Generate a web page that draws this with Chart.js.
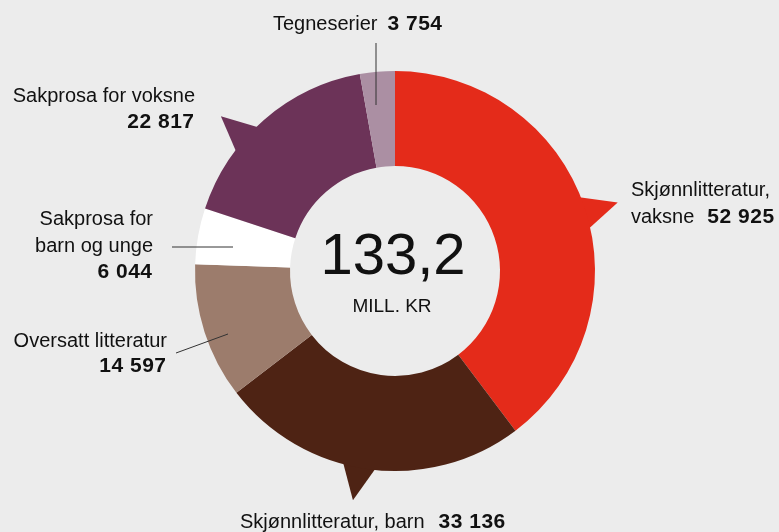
<!DOCTYPE html>
<html>
<head>
<meta charset="utf-8">
<script src="https://cdn.jsdelivr.net/npm/chart.js@4.4.1/dist/chart.umd.min.js"></script>
<style>
  html, body { margin: 0; padding: 0; background: #ececec; }
  #wrap { position: relative; width: 779px; height: 532px; }
</style>
</head>
<body>
<div id="wrap"><canvas id="kake"></canvas></div>
<script>
// Omsetning per kategori (1000 kr)
const kategorier = [
    ['Skjønnlitteratur,', 'vaksne'],
    ['Skjønnlitteratur, barn'],
    ['Oversatt litteratur'],
    ['Sakprosa for', 'barn og unge'],
    ['Sakprosa for voksne'],
    ['Tegneserier']
];
const verdier = [52925, 33136, 14597, 6044, 22817, 3754];
const farger = ['#e42b1a', '#4e2314', '#9c7c6c', '#ffffff', '#6c3358', '#ab8fa3'];
const totalTekst = '133,2';
const enhetTekst = 'MILL. KR';

const FONT = '"Liberation Sans", Arial, sans-serif';
const TEKST = '#111111';

function tusen(v) {
    return String(v).replace(/\B(?=(\d{3})+(?!\d))/g, ' ');
}

// plassering av etiketter (x, grunnlinje, justering, linjeavstand, mellomrom før tall, tall på egen linje?)
const etikettOppsett = [
    { x: 631, y: 196, align: 'left', lh: 27, gap: 13, egenLinje: false },
    { x: 240, y: 528, align: 'left', lh: 26, gap: 14, egenLinje: false },
    { x: 167, y: 347, align: 'right', lh: 26, gap: 0, egenLinje: true },
    { x: 153, y: 225, align: 'right', lh: 27, gap: 0, egenLinje: true },
    { x: 195, y: 102, align: 'right', lh: 27, gap: 0, egenLinje: true },
    { x: 273, y: 30, align: 'left', lh: 26, gap: 10, egenLinje: false }
];

// streker fra etikett til sektor
const streker = [
    [376, 43, 376, 105],
    [172, 247, 233, 247],
    [176, 353, 228, 334]
];

// "snakkeboble"-spisser: sektor og andel av vinkelen
const spisser = [
    { i: 0, andel: 0.51 },
    { i: 1, andel: 0.53 },
    { i: 4, andel: 0.38 }
];

const spissPlugin = {
    id: 'spisser',
    beforeDatasetsDraw(chart) {
        const ctx = chart.ctx;
        const meta = chart.getDatasetMeta(0);
        spisser.forEach(s => {
            const arc = meta.data[s.i];
            const p = arc.getProps(['x', 'y', 'startAngle', 'endAngle', 'outerRadius'], true);
            const a = p.startAngle + (p.endAngle - p.startAngle) * s.andel;
            const halv = 5 * Math.PI / 180;
            const r = p.outerRadius - 3;
            const tipp = p.outerRadius + 33;
            ctx.save();
            ctx.fillStyle = farger[s.i];
            ctx.beginPath();
            ctx.moveTo(p.x + Math.cos(a - halv) * r, p.y + Math.sin(a - halv) * r);
            ctx.lineTo(p.x + Math.cos(a) * tipp, p.y + Math.sin(a) * tipp);
            ctx.lineTo(p.x + Math.cos(a + halv) * r, p.y + Math.sin(a + halv) * r);
            ctx.closePath();
            ctx.fill();
            ctx.restore();
        });
    }
};

const vanlig = '20px ' + FONT;
const fet = 'bold 21px ' + FONT;
const sperring = 0.5;

function fetTekst(ctx, tekst, x, y, align) {
    ctx.save();
    ctx.font = fet;
    ctx.letterSpacing = sperring + 'px';
    let w = ctx.measureText(tekst).width;
    ctx.textAlign = 'left';
    if (align === 'right') x -= w - sperring;
    ctx.fillText(tekst, x, y);
    ctx.restore();
    return w;
}

const tekstPlugin = {
    id: 'tekster',
    afterDatasetsDraw(chart) {
        const ctx = chart.ctx;
        const meta = chart.getDatasetMeta(0);
        const c = meta.data[0];
        ctx.save();

        // streker
        ctx.strokeStyle = '#333333';
        ctx.lineWidth = 1;
        streker.forEach(l => {
            ctx.beginPath();
            ctx.moveTo(l[0], l[1]);
            ctx.lineTo(l[2], l[3]);
            ctx.stroke();
        });

        // midten
        ctx.fillStyle = TEKST;
        ctx.textAlign = 'center';
        ctx.textBaseline = 'alphabetic';
        ctx.font = '58px ' + FONT;
        ctx.fillText(totalTekst, c.x - 2, 274);
        ctx.font = '19px ' + FONT;
        ctx.fillText(enhetTekst, c.x - 3, 312);

        // etiketter
        kategorier.forEach((navn, i) => {
            const o = etikettOppsett[i];
            const tall = tusen(verdier[i]);
            let y = o.y;
            navn.forEach((linje, j) => {
                const siste = j === navn.length - 1;
                ctx.font = vanlig;
                ctx.textAlign = o.align;
                if (siste && !o.egenLinje) {
                    // navn + tall på samme linje
                    ctx.textAlign = 'left';
                    ctx.fillText(linje, o.x, y);
                    const w = ctx.measureText(linje).width;
                    fetTekst(ctx, tall, o.x + w + o.gap, y, 'left');
                } else {
                    ctx.fillText(linje, o.x, y);
                }
                y += o.lh;
            });
            if (o.egenLinje) {
                fetTekst(ctx, tall, o.x - 1, y - 1, 'right');
            }
        });
        ctx.restore();
    }
};

new Chart(document.getElementById('kake'), {
    type: 'doughnut',
    data: {
        labels: kategorier.map(k => k.join(' ')),
        datasets: [{
            data: verdier,
            backgroundColor: farger,
            borderWidth: 0,
            hoverOffset: 0
        }]
    },
    options: {
        responsive: true,
        maintainAspectRatio: false,
        animation: false,
        cutout: '52.5%',
        rotation: 0,
        layout: { padding: { top: 71, bottom: 61, left: 195, right: 184 } },
        plugins: {
            legend: { display: false },
            tooltip: { enabled: false }
        },
        events: []
    },
    plugins: [spissPlugin, tekstPlugin]
});
</script>
</body>
</html>
